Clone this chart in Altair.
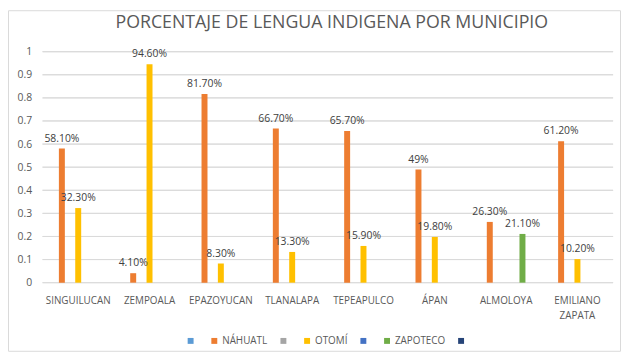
import altair as alt
import pandas as pd

municipios = ["SINGUILUCAN", "ZEMPOALA", "EPAZOYUCAN", "TLANALAPA",
              "TEPEAPULCO", "ÁPAN", "ALMOLOYA", "EMILIANO ZAPATA"]
series_domain = ["_1", "NÁHUATL", "_3", "OTOMÍ", "_5", "ZAPOTECO", "_7"]
series_colors = ["#5B9BD5", "#ED7D31", "#A5A5A5", "#FFC000", "#4472C4", "#70AD47", "#264478"]
y_ticks = [0, 0.1, 0.2, 0.3, 0.4, 0.5, 0.6, 0.7, 0.8, 0.9, 1]

nahuatl = [0.581, 0.041, 0.817, 0.667, 0.657, 0.49, 0.263, 0.612]
nahuatl_lbl = ["58.10%", "4.10%", "81.70%", "66.70%", "65.70%", "49%", "26.30%", "61.20%"]
otomi = [0.323, 0.946, 0.083, 0.133, 0.159, 0.198, None, 0.102]
otomi_lbl = ["32.30%", "94.60%", "8.30%", "13.30%", "15.90%", "19.80%", None, "10.20%"]
zapoteco = [None, None, None, None, None, None, 0.211, None]
zapoteco_lbl = [None, None, None, None, None, None, "21.10%", None]

rows = []
for name, vals, lbls in [("NÁHUATL", nahuatl, nahuatl_lbl),
                         ("OTOMÍ", otomi, otomi_lbl),
                         ("ZAPOTECO", zapoteco, zapoteco_lbl)]:
    for m, v, l in zip(municipios, vals, lbls):
        if v is not None:
            rows.append({"municipio": m, "serie": name, "valor": v, "etiqueta": l})
df = pd.DataFrame(rows)
grid_df = pd.DataFrame({"valor": y_ticks})

FONT = "Open Sans"
W, H = 578, 234

x_enc = alt.X("municipio:N", sort=municipios,
              scale=alt.Scale(domain=municipios, paddingInner=0, paddingOuter=0),
              axis=alt.Axis(title=None, labelAngle=0, ticks=False, domain=False,
                            labelFont=FONT, labelFontSize=10, labelColor="#595959",
                            labelPadding=13, labelLineHeight=15,
                            labelExpr="datum.label == 'EMILIANO ZAPATA' ? ['EMILIANO','ZAPATA'] : datum.label"))
xoff_enc = alt.XOffset("serie:N", sort=series_domain,
                       scale=alt.Scale(domain=series_domain, paddingInner=0.27, paddingOuter=1.0))
y_enc = alt.Y("valor:Q", scale=alt.Scale(domain=[0, 1], nice=False),
              axis=alt.Axis(title=None, values=y_ticks, format="~g", grid=False,
                            ticks=False, domain=False, labelOverlap=False,
                            labelFont=FONT, labelFontSize=10.5, labelColor="#595959",
                            labelPadding=11, minExtent=27, maxExtent=27))

# gridlines as zero-height outlined rects (one per tick value)
gridlines = alt.Chart(grid_df).mark_rect(
    filled=False, stroke="#D9D9D9", strokeWidth=1
).encode(
    y=y_enc, y2=alt.Y2("valor:Q"), x=alt.value(0), x2=alt.value(W)
)

base = alt.Chart(df)

bars = base.mark_bar().encode(
    x=x_enc,
    xOffset=xoff_enc,
    y=y_enc,
    color=alt.Color("serie:N", scale=alt.Scale(domain=series_domain, range=series_colors),
                    legend=alt.Legend(title=None, orient="none", direction="horizontal",
                                      columns=7, legendX=145, legendY=288,
                                      symbolType="square", symbolSize=36, symbolStrokeWidth=0,
                                      symbolOpacity=1, labelOffset=3, columnPadding=11,
                                      labelFont=FONT, labelFontSize=10, labelColor="#595959",
                                      labelExpr="slice(datum.label,0,1) == '_' ? '' : datum.label")),
)

labels = base.mark_text(baseline="bottom", dy=-5, font=FONT, fontSize=10.5, color="#404040").encode(
    x=x_enc,
    xOffset=xoff_enc,
    y=y_enc,
    text="etiqueta:N",
)

frame = alt.Chart(pd.DataFrame({"a": [0]})).mark_rect(
    filled=False, stroke="#D9D9D9", strokeWidth=1
).encode(
    x=alt.value(-34.5), x2=alt.value(W + 7.5), y=alt.value(-41.5), y2=alt.value(H + 69.5)
)

chart = alt.layer(gridlines, bars, labels, frame).properties(
    width=W, height=H,
    background="white",
    padding={"left": 0, "top": 0, "right": 0, "bottom": 0},
    title=alt.TitleParams("PORCENTAJE DE LENGUA INDIGENA POR MUNICIPIO", font=FONT, fontSize=18,
                          fontWeight="normal", color="#595959", anchor="middle", dx=4, offset=-22),
).configure_view(stroke=None)

chart.save("out.html", embed_options={"renderer": "svg", "actions": False})
